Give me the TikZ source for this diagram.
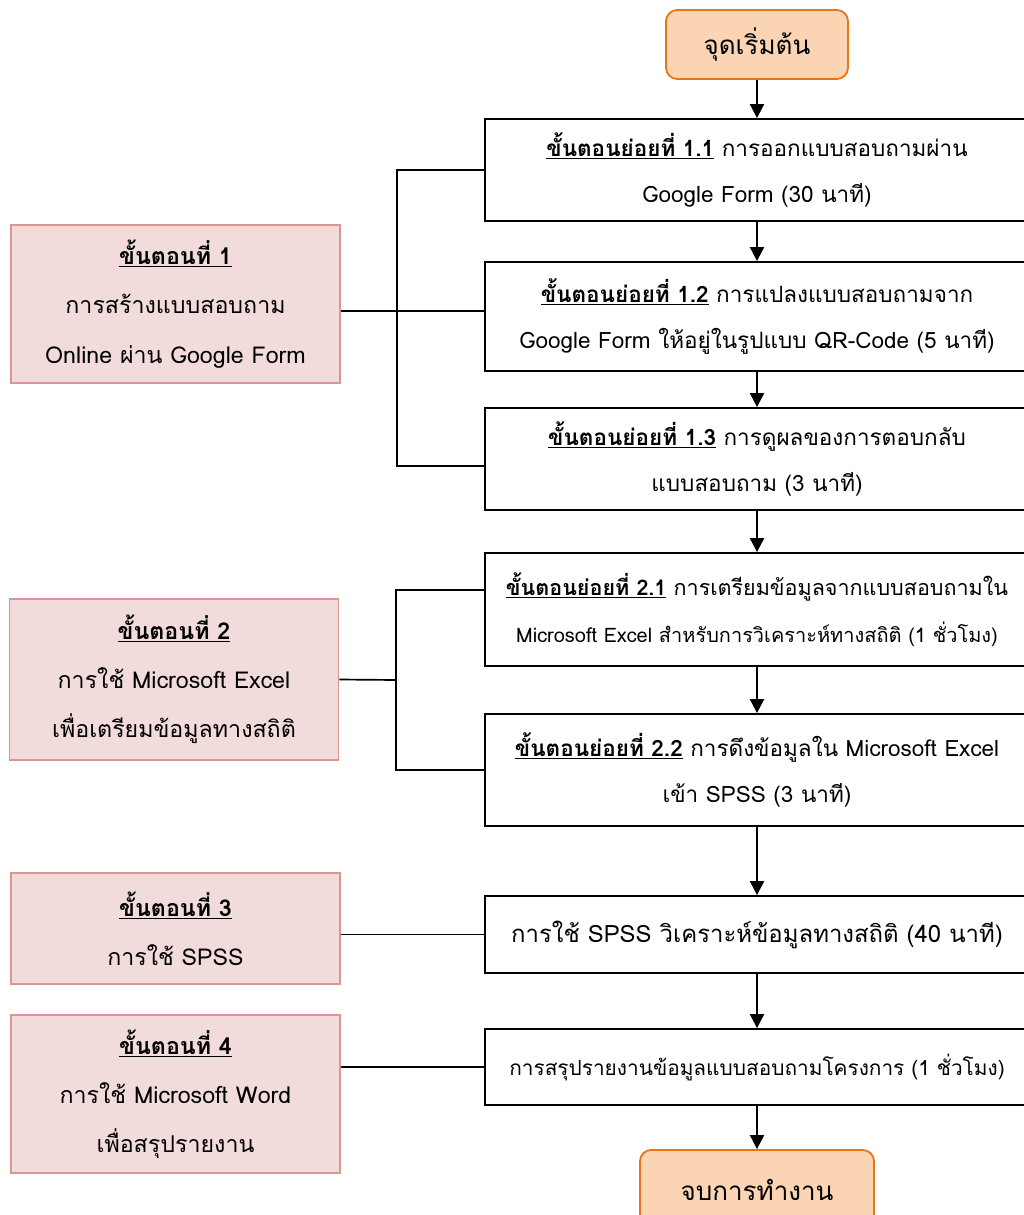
\documentclass[tikz,border=0pt]{standalone}
\usepackage{fontspec}
\setmainfont[Script=Thai]{Loma}
\usetikzlibrary{arrows.meta}

\definecolor{endpeach}{HTML}{FBD4B4}
\definecolor{endorange}{HTML}{E8741C}
\definecolor{steppink}{HTML}{F2DCDB}
\definecolor{steprose}{HTML}{D99694}

\newcommand{\ulb}[1]{\underline{\textbf{#1}}}

\begin{document}
\begin{tikzpicture}[x=0.025cm,y=-0.025cm,
  startend/.style={draw=endorange,fill=endpeach,line width=1.3pt,rounded corners=8pt,inner sep=0pt,font=\fontsize{18.5}{24}\selectfont},
  subbox/.style={draw,fill=white,line width=1.3pt,minimum width=13.6cm,inner sep=0pt,align=center,font=\fontsize{16}{33}\selectfont},
  stepbox/.style={draw=steprose,fill=steppink,line width=1.3pt,minimum width=8.225cm,inner sep=0pt,align=center,font=\fontsize{16.5}{35}\selectfont},
  arr/.style={-{Triangle[length=10pt,width=10pt]},line width=1.5pt},
  link/.style={line width=1.2pt}]
\clip (0,0) rectangle (1024,1215);

% start and end
\node[startend,minimum width=4.55cm,minimum height=1.725cm] (start) at (757,44.5) {จุดเริ่มต้น};
\node[startend,minimum width=5.85cm,minimum height=2cm] (end) at (757,1190) {จบการทำงาน};

% sub steps
\node[subbox,minimum height=2.55cm] (b11) at (757,170)
  {\ulb{ขั้นตอนย่อยที่ 1.1} การออกแบบสอบถามผ่าน\\ Google Form (30 นาที)};
\node[subbox,minimum height=2.725cm] (b12) at (757,316.5)
  {\ulb{ขั้นตอนย่อยที่ 1.2} การแปลงแบบสอบถามจาก\\ Google Form ให้อยู่ในรูปแบบ QR-Code (5 นาที)};
\node[subbox,minimum height=2.55cm] (b13) at (757,459)
  {\ulb{ขั้นตอนย่อยที่ 1.3} การดูผลของการตอบกลับ\\ แบบสอบถาม (3 นาที)};
\node[subbox,minimum height=2.825cm,font=\fontsize{15.3}{33}\selectfont] (b21) at (757,609.5)
  {\ulb{ขั้นตอนย่อยที่ 2.1} การเตรียมข้อมูลจากแบบสอบถามใน\\ {\fontsize{14.2}{33}\selectfont Microsoft Excel สำหรับการวิเคราะห์ทางสถิติ (1 ชั่วโมง)}};
\node[subbox,minimum height=2.8cm] (b22) at (757,770)
  {\ulb{ขั้นตอนย่อยที่ 2.2} การดึงข้อมูลใน Microsoft Excel\\ เข้า SPSS (3 นาที)};
\node[subbox,minimum height=1.925cm,font=\fontsize{17}{33}\selectfont] (b3) at (757,934.5)
  {การใช้ SPSS วิเคราะห์ข้อมูลทางสถิติ (40 นาที)};
\node[subbox,minimum height=1.9cm,font=\fontsize{14.8}{33}\selectfont] (b4) at (757,1067)
  {การสรุปรายงานข้อมูลแบบสอบถามโครงการ (1 ชั่วโมง)};

% main steps
\node[stepbox,minimum height=3.95cm] (s1) at (175.5,304)
  {\ulb{ขั้นตอนที่ 1}\\ การสร้างแบบสอบถาม\\ Online ผ่าน Google Form};
\node[stepbox,minimum height=4.025cm] (s2) at (174,679.5)
  {\ulb{ขั้นตอนที่ 2}\\ การใช้ Microsoft Excel\\ เพื่อเตรียมข้อมูลทางสถิติ};
\node[stepbox,minimum height=2.775cm] (s3) at (175.5,928.5)
  {\ulb{ขั้นตอนที่ 3}\\ การใช้ SPSS};
\node[stepbox,minimum height=3.95cm] (s4) at (175.5,1094)
  {\ulb{ขั้นตอนที่ 4}\\ การใช้ Microsoft Word\\ เพื่อสรุปรายงาน};

% arrows down the right column
\foreach \a/\b in {start/b11,b11/b12,b12/b13,b13/b21,b21/b22,b22/b3,b3/b4,b4/end}
  \draw[arr] (\a.south) -- (\a.south |- \b.north);

% brackets from main steps
\coordinate (j1) at (397,311);
\draw[link] (s1.east |- j1) -- (b12.west |- j1);
\draw[link] (b11.west) -| (j1) |- ([yshift=-5pt]b13.west);
\coordinate (j2) at (396,680);
\draw[link] (s2.east) -- (j2);
\draw[link] ([yshift=14pt]b21.west) -| (j2) |- (b22.west);
\draw[link] (s3.east |- b3.west) -- (b3.west);
\draw[link] (s4.east |- b4.west) -- (b4.west);
\end{tikzpicture}
\end{document}
